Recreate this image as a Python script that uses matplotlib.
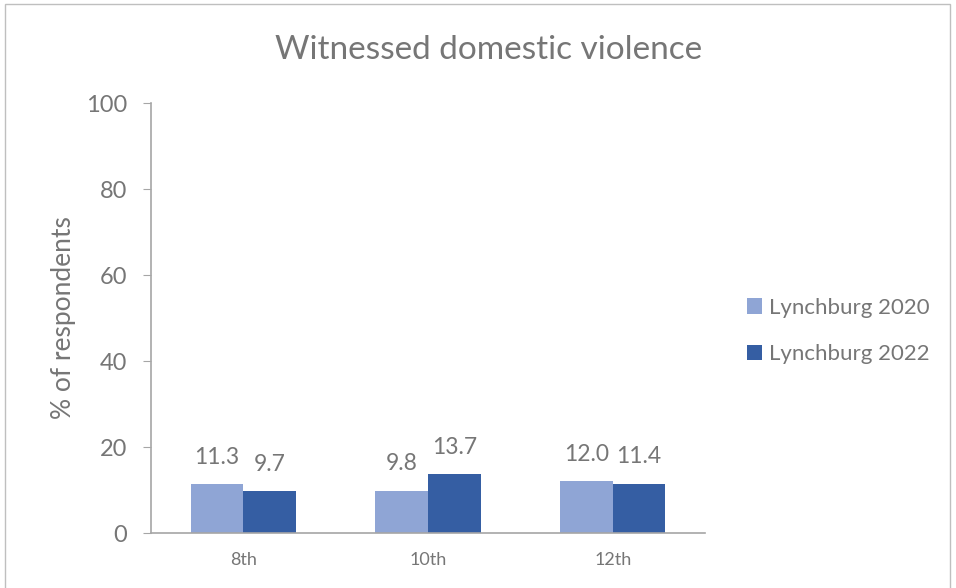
import numpy as np
import matplotlib.pyplot as plt
from matplotlib.patches import Rectangle

plt.rcParams['font.family'] = ['Lato', 'DejaVu Sans']

grades = ['8th', '10th', '12th']
series_names = ['Lynchburg 2020', 'Lynchburg 2022']
vals_2020 = [11.3, 9.8, 12.0]
vals_2022 = [9.7, 13.7, 11.4]
colors = ['#8FA5D5', '#355EA3']
text_col = '#767676'
axis_col = '#A6A6A6'

fig = plt.figure(figsize=(9.56, 5.88), dpi=100)
ax = fig.add_axes([151 / 956, 1 - 533 / 588, 554 / 956, 430 / 588])

x = np.arange(len(grades))
w = 0.285
for i, (vals, name) in enumerate(zip([vals_2020, vals_2022], series_names)):
    pos = x + (i - 0.5) * w
    bars = ax.bar(pos, vals, w, color=colors[i], label=name)
    for b, v in zip(bars, vals):
        ax.annotate(f'{v:.1f}', (b.get_x() + b.get_width() / 2, v),
                    xytext=(0, 19.5), textcoords='offset points',
                    ha='center', va='center', fontsize=16.5, color=text_col)

ax.set_xlim(-0.5, 2.5)
ax.set_ylim(0, 100)
ax.set_yticks(range(0, 101, 20))
ax.set_xticks(x)
ax.set_xticklabels(grades, fontsize=13, color=text_col)
ax.tick_params(axis='y', labelsize=17, labelcolor=text_col, color=axis_col, length=6, pad=11)
ax.tick_params(axis='x', length=0, pad=14)
for s in ['top', 'right']:
    ax.spines[s].set_visible(False)
for s in ['left', 'bottom']:
    ax.spines[s].set_color(axis_col)
    ax.spines[s].set_linewidth(1.2)
ax.set_ylabel('% of respondents', fontsize=19, color=text_col, labelpad=7)

fig.text(489 / 956, 1 - 50 / 588, 'Witnessed domestic violence', ha='center', va='center',
         fontsize=24, color=text_col)

leg = fig.legend(loc='center left', bbox_to_anchor=(727 / 956, 1 - 331 / 588), frameon=False,
                 fontsize=16, handlelength=0.68, handleheight=0.68, handletextpad=0.32,
                 labelspacing=1.2, labelcolor=text_col)

fig.patches.append(Rectangle((5 / 956, -0.1), 945 / 956, 1.1 - 4 / 588, transform=fig.transFigure,
                             fill=False, edgecolor='#BFBFBF', linewidth=1))

fig.savefig('out.png', dpi=100)
